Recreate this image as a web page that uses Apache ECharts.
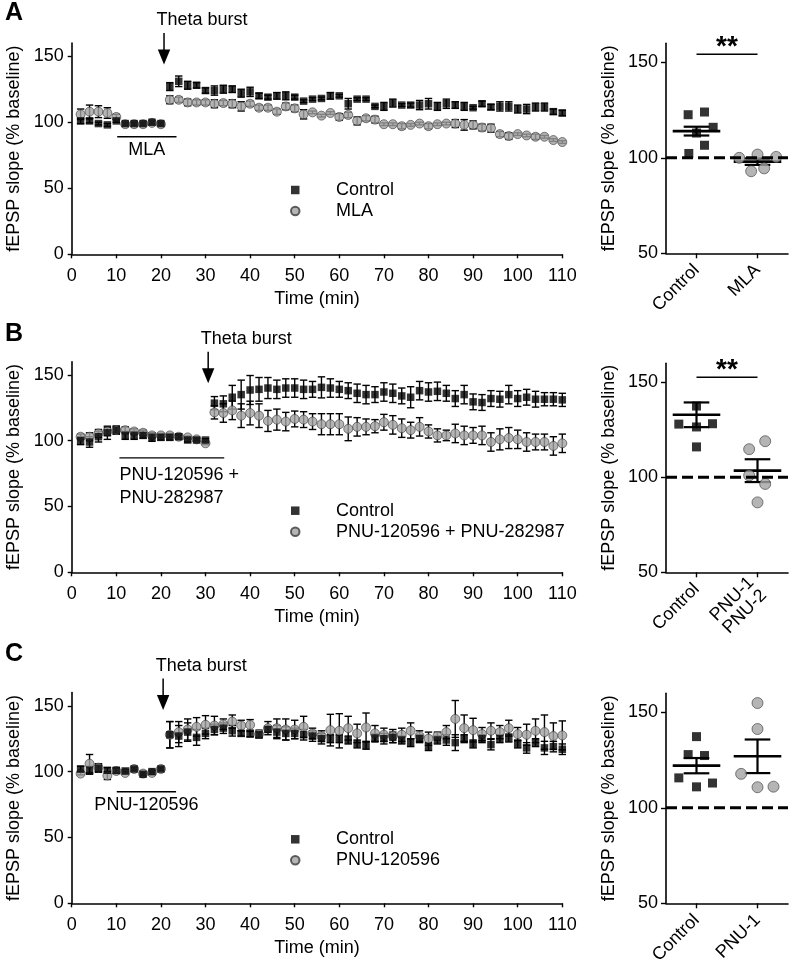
<!DOCTYPE html>
<html><head><meta charset="utf-8">
<script src="https://cdn.jsdelivr.net/npm/echarts@6/dist/echarts.min.js"></script>
<style>html,body{margin:0;padding:0;background:#fff}#c{width:790px;height:969px}</style>
</head><body><div id="c"></div>
<script>
// ---------------- DATA ----------------
const timeMin = [2,4,6,8,10,12,14,16,18,20,22,24,26,28,30,32,34,36,38,40,42,44,46,48,50,52,54,56,58,60,62,64,66,68,70,72,74,76,78,80,82,84,86,88,90,92,94,96,98,100,102,104,106,108,110];

const aControl = [101,101,99,98,101,99,99,99,100,99, 127,131,128,128,124,124,125,125,122,123, 120,119,120,120,119,116,117.5,118,120,120, 114,117.5,117.5,112,112,114.5,113,113,113,114, 112,114,113,112,111,114,111.5,112,112,110, 110,111.5,111.5,108,107];
const aControlErr = [2,1.5,1,1,1,1,1,1,1,1, 3,4,3,2,2,3.5,3,2.5,3,3.5, 2,1.5,2.5,3,1.5,1,1,1,2.5,1, 4,1,1,1,3,3,1,1.5,3.5,4, 3,3.5,2.5,3,1,2,2,3.5,3.5,3, 3.5,3,3,2,2];
const aDrug = [106,108,108,107,104,98.5,98.5,98.5,99.5,98.5, 117,117,115,115,115,114,114.5,114,112,114, 111,111,108,112,110.5,106,107.5,105,107,104, 105.5,101,103,102,98.5,98.5,97,98,99,97, 98.5,99,99,98,98,96,95.5,91,89.5,91, 90,89,89,86.5,85];
const aDrugErr = [4,5,4.5,4,2,1,1,1,1,1, 3,2,2.5,2,2,3,2,3,3.5,2, 2,2,2,2.5,2.5,3.5,1,1,1,2.5, 2,3,2,2.5,1,1,2,1,1,2, 1,1,3,4,3,2.5,3,2,2.5,1, 1,2,1,1,1];

const bControl = [100,99,103,106,108,104,104,104,102.5,102.5, 102.5,103,100.5,100.5,100.5, 128.5,128,133,135,138.5, 139,140,139,140,140,139,139,140.5,140,139, 138,136,135,135,137,136,134,133,138,137, 137.5,136,132,135,129.5,129,132,131.5,135,132, 133,131.5,131.5,131.5,131];
const bControlErr = [3,4,4,5,3,3,3,2,3,2, 2,2,1.5,1,1, 5,6,9,11,11, 9,8,7,7,7,7,6,8,7,6, 6,7,7,6,7,7,6,8,7,7, 7,6,6,7,6,6,6,6,7,6, 6,6,5,5,5];
const bDrug = [103,103,105.5,107,108,108,107,106,104,104, 104,103,102.5,101,98, 121.5,121,123,119,121, 119,115,116,114.5,116.5,116,114.5,112.5,112.5,112.5, 109,110.5,110.5,111,114,112,109.5,108,110.5,107, 104,104,105.5,104,104,104,99,101,102,101, 99,99,99,96,98];
const bDrugErr = [2,3,3,3,3,2.5,2,2,2,1.5, 1.5,1,1,1,1, 5,7,7,9,9, 9,8,8,7,6,6,6,8,8,8, 9,7,6,5,6,7,7,6,7,5, 5,4,7,7,6,7,7,8,8,7, 7,6,6,7,7];

const cControl = [102,101,102.5,101,101,100.5,102,98,100,102, 128,127,130,126,129,132,133,131,129,128.5, 128,132,130,129,129,128,127,125,125,125, 124,121,120,125.5,125,126,124,122,125,119, 124,124,122,125,121,125,120.5,125,125.5,121, 118,122,118,119,117];
const cControlErr = [2,3,3,2,2,1,1,1,1,1, 10,8,7,6,4,4,4,4,2,2, 2,2,5,5,4,4,4,4,3,3, 3,3,3,3,4,4,3,3,3,3, 3,4,6,3,3,3,4,3,3,3, 4,3,5,4,4];
const cDrug = [98.5,106,103,97,100.5,99,102,98.5,99,102, 128,130,132,134,135.5,135,136,138,135,135.5, 128.5,133,133,132,132,134,129,127,131.5,131, 133,129,133.5,129,128,127,128,131,127,125, 127,130,140,133,131.5,128.5,131,130,133,128.5, 128,131,130,127,127.5];
const cDrugErr = [1,7,3,3,2,1,1,1,1,1, 10,8,8,7,7,7,4,5,4,4, 3,5,7,8,7,8,4,4,12,13, 9,7,11,6,5,5,5,6,4,5, 3,5,14,10,9,5,6,5,6,5, 8,9,13,10,11];

// drug names (legend) and summary-category labels
const drugNames = ['MLA', 'PNU-120596 + PNU-282987', 'PNU-120596'];
const summaryLabels = [['Control','MLA'], ['Control','PNU-1\nPNU-2'], ['Control','PNU-1']];

// summary (individual slices, % baseline) and their horizontal jitter (fraction of category)
const sumAControl = [122.6,124,116,113,106.6,102.3];
const sumAControlJit = [-0.137,0.131,0.273,0,0.131,-0.126];
const sumADrug = [100,101.7,100.5,93,94.5];
const sumADrugJit = [-0.30,0,0.306,-0.104,0.109];
const sumBControl = [137.5,128,126.5,128.2,116];
const sumBControlJit = [0,-0.29,0,0.262,0];
const sumBDrug = [114.8,119,101,96.5,86.8];
const sumBDrugJit = [-0.137,0.126,-0.137,0.126,0];
const sumCControl = [137.3,127.9,127.4,115.7,113,111];
const sumCControlJit = [0,-0.137,0.131,-0.29,0.262,0];
const sumCDrug = [154.9,141.3,117.8,110.8,111.1];
const sumCDrugJit = [0,0,-0.268,0,0.262];
// mean and SEM for [Control, Drug]
const sumMean = [[114,98],[132.9,103.5],[122.1,127]];
const sumSem = [[2.3,1.7],[6.5,6],[4,8.8]];
const sigLevel = [154.2, 152.6, null];

const yTicks = [0,50,100,150];
const ySumTicks = [50,100,150];

// ---------------- STYLE ----------------
const FONT = '"Liberation Sans", Arial, sans-serif';
const FS = 18;

// ---------------- CHART ----------------
const chart = echarts.init(document.getElementById('c'), null, {renderer:'canvas'});
const txt = {fontFamily:FONT, fontSize:FS, color:'#000'};
const axisLine = {show:true, lineStyle:{color:'#000', width:1.6}};

const mainGrids = [
  {left:71.7, top:43, width:490.6, height:211.3},
  {left:71.7, top:361.7, width:490.6, height:210.6},
  {left:71.7, top:692.6, width:490.6, height:210.7}
];
const sumGrids = [
  {left:666, top:43.3, width:122, height:210},
  {left:666, top:363.3, width:122, height:209},
  {left:666, top:693.3, width:122, height:210}
];
const grids = mainGrids.concat(sumGrids).map(g=>Object.assign({containLabel:false, outerBoundsMode:'none'}, g));

const xAxes = [], yAxes = [];
for (let i=0;i<3;i++){
  xAxes.push({type:'value', gridIndex:i, min:0, max:110, interval:10,
    axisLine, splitLine:{show:false},
    axisTick:{show:true, length:4, lineStyle:{color:'#000', width:1.4}},
    axisLabel:Object.assign({margin:13}, txt),
    name:'Time (min)', nameLocation:'middle', nameGap:36, nameTextStyle:txt});
  yAxes.push({type:'value', gridIndex:i, min:0, max:160,
    axisLine, splitLine:{show:false},
    axisTick:{show:true, length:4, customValues:yTicks, lineStyle:{color:'#000', width:1.4}},
    axisLabel:Object.assign({margin:8, customValues:yTicks}, txt),
    name:'fEPSP slope (% baseline)', nameLocation:'middle', nameGap:48, nameTextStyle:txt});
}
for (let i=0;i<3;i++){
  const labs = summaryLabels[i];
  xAxes.push({type:'value', gridIndex:3+i, min:0, max:2,
    axisLine, splitLine:{show:false},
    axisTick:{show:true, length:5, customValues:[0.5,1.5], lineStyle:{color:'#000', width:1.4}},
    axisLabel:Object.assign({margin:14, rotate:45, customValues:[0.5,1.5],
      formatter:(v)=> v<1 ? labs[0] : labs[1]}, txt)});
  yAxes.push({type:'value', gridIndex:3+i, min:50, max:160,
    axisLine, splitLine:{show:false},
    axisTick:{show:true, length:5, customValues:ySumTicks, lineStyle:{color:'#000', width:1.4}},
    axisLabel:Object.assign({margin:8, customValues:ySumTicks}, txt),
    name:'fEPSP slope (% baseline)', nameLocation:'middle', nameGap:48, nameTextStyle:txt});
}

function errSeries(gi, xs, ys, es){
  return {type:'custom', xAxisIndex:gi, yAxisIndex:gi, silent:true, clip:false,
    data: xs.map((x,i)=>[x, ys[i], es[i]]), encode:{x:0, y:1},
    renderItem:(p,api)=>{
      const x=api.value(0), y=api.value(1), e=api.value(2);
      const a=api.coord([x,y+e]), b=api.coord([x,y-e]);
      const w=3.7, st={stroke:'#000', lineWidth:1.4};
      return {type:'group', children:[
        {type:'line', shape:{x1:a[0],y1:a[1],x2:b[0],y2:b[1]}, style:st},
        {type:'line', shape:{x1:a[0]-w,y1:a[1],x2:a[0]+w,y2:a[1]}, style:st},
        {type:'line', shape:{x1:b[0]-w,y1:b[1],x2:b[0]+w,y2:b[1]}, style:st}]};
    }};
}
const squareStyle = {symbol:'rect', symbolSize:7.5, itemStyle:{color:'#000'}};
const circleStyle = {symbol:'circle', symbolSize:9, itemStyle:{color:'#a3a3a3', borderColor:'#3a3a3a', borderWidth:0.8}};

const panels = [
  [aControl, aControlErr, aDrug, aDrugErr],
  [bControl, bControlErr, bDrug, bDrugErr],
  [cControl, cControlErr, cDrug, cDrugErr]
];
const series = [];
panels.forEach((p, gi)=>{
  series.push(errSeries(gi, timeMin, p[2], p[3]));
  series.push(Object.assign({type:'scatter', name:drugNames[gi], xAxisIndex:gi, yAxisIndex:gi, silent:true,
    data: timeMin.map((t,i)=>[t,p[2][i]])}, circleStyle));
  series.push(errSeries(gi, timeMin, p[0], p[1]));
  series.push(Object.assign({type:'scatter', name:'Control', xAxisIndex:gi, yAxisIndex:gi, silent:true,
    data: timeMin.map((t,i)=>[t,p[0][i]])}, squareStyle));
});

const sums = [
  [sumAControl, sumAControlJit, sumADrug, sumADrugJit],
  [sumBControl, sumBControlJit, sumBDrug, sumBDrugJit],
  [sumCControl, sumCControlJit, sumCDrug, sumCDrugJit]
];
sums.forEach((s, k)=>{
  const gi = 3+k;
  series.push({type:'line', name:'baseline '+k, xAxisIndex:gi, yAxisIndex:gi, silent:true, symbol:'none',
    data:[[0,100],[2,100]], lineStyle:{color:'#000', width:3, type:[11,5]}});
  series.push(Object.assign({type:'scatter', name:'Control slices '+k, xAxisIndex:gi, yAxisIndex:gi, silent:true,
    data: s[0].map((v,i)=>[0.5+s[1][i], v])}, squareStyle, {symbolSize:9}));
  series.push(Object.assign({type:'scatter', name:'Drug slices '+k, xAxisIndex:gi, yAxisIndex:gi, silent:true,
    data: s[2].map((v,i)=>[1.5+s[3][i], v])}, circleStyle, {symbolSize:11}));
  series.push({type:'custom', name:'mean '+k, xAxisIndex:gi, yAxisIndex:gi, silent:true, clip:false,
    data: [[0.5, sumMean[k][0], sumSem[k][0]], [1.5, sumMean[k][1], sumSem[k][1]]], encode:{x:0,y:1},
    renderItem:(p,api)=>{
      const x=api.value(0), m=api.value(1), e=api.value(2);
      const l=api.coord([x-0.39,m]), r=api.coord([x+0.39,m]);
      const t=api.coord([x,m+e]), b=api.coord([x,m-e]);
      const cw = (api.coord([x+0.21,m])[0]-api.coord([x,m])[0]);
      const st={stroke:'#000', lineWidth:2.2};
      return {type:'group', children:[
        {type:'line', shape:{x1:l[0],y1:l[1],x2:r[0],y2:r[1]}, style:{stroke:'#000', lineWidth:2.6}},
        {type:'line', shape:{x1:t[0],y1:t[1],x2:b[0],y2:b[1]}, style:st},
        {type:'line', shape:{x1:t[0]-cw,y1:t[1],x2:t[0]+cw,y2:t[1]}, style:st},
        {type:'line', shape:{x1:b[0]-cw,y1:b[1],x2:b[0]+cw,y2:b[1]}, style:st}]};
    }});
});

const legendRows = [190, 510.7, 839.3];
const squareIcon = 'path://M0 0L10 0L10 10L0 10Z';
const legends = drugNames.map((d,i)=>({
  orient:'vertical', left:290, top:legendRows[i]-10.5, itemWidth:8.5, itemHeight:8.5, itemGap:0, padding:0,
  selectedMode:false, textStyle:Object.assign({lineHeight:21, padding:[0,0,0,31.5]}, txt),
  data:[{name:'Control', icon:squareIcon}, {name:d, icon:'circle'}]
}));

chart.setOption({
  animation:false,
  grid:grids, xAxis:xAxes, yAxis:yAxes, legend:legends, series
});

// ---------------- ANNOTATIONS (placed via the chart's own scales) ----------------
const annot = [
  {g:0, theta:20.7, tip:143.7, bar:[10.2,23.5], barVal:89, drug:['MLA'], left:false},
  {g:1, theta:30.6, tip:143.6, bar:[10.7,34.2], barVal:87, drug:['PNU-120596 +','PNU-282987'], left:true},
  {g:2, theta:20.5, tip:146.8, bar:[10.1,23.4], barVal:84.7, drug:['PNU-120596'], left:false}
];
const gfx = [];
const px = (g, x, y) => chart.convertToPixel({gridIndex:g}, [x, y]);
annot.forEach(a=>{
  const tip = px(a.g, a.theta, a.tip);
  const top = tip[1]-31.5;
  gfx.push({type:'line', shape:{x1:tip[0], y1:top, x2:tip[0], y2:tip[1]-12}, style:{stroke:'#000', lineWidth:1.5}});
  gfx.push({type:'polygon', shape:{points:[[tip[0]-6.2,tip[1]-15],[tip[0]+6.2,tip[1]-15],[tip[0],tip[1]]]}, style:{fill:'#000'}});
  gfx.push({type:'text', x:tip[0]-7.5, y:top-12.8, style:{text:'Theta burst', font:FS+'px '+FONT, fill:'#000', align:'left', verticalAlign:'middle'}});
  const b0 = px(a.g, a.bar[0], a.barVal), b1 = px(a.g, a.bar[1], a.barVal);
  gfx.push({type:'line', shape:{x1:b0[0], y1:b0[1], x2:b1[0], y2:b1[1]}, style:{stroke:'#000', lineWidth:1.3}});
  if (a.left){
    a.drug.forEach((s,i)=>gfx.push({type:'text', x:b0[0], y:b0[1]+17.3+23.3*i,
      style:{text:s, font:FS+'px '+FONT, fill:'#000', align:'left', verticalAlign:'middle'}}));
  } else {
    gfx.push({type:'text', x:(b0[0]+b1[0])/2, y:b0[1]+13.5,
      style:{text:a.drug[0], font:FS+'px '+FONT, fill:'#000', align:'center', verticalAlign:'middle'}});
  }
});
sigLevel.forEach((lv,k)=>{
  if (lv==null) return;
  const l = px(3+k, 0.5, lv), r = px(3+k, 1.5, lv);
  gfx.push({type:'line', shape:{x1:l[0], y1:l[1], x2:r[0], y2:r[1]}, style:{stroke:'#000', lineWidth:1.5}});
  gfx.push({type:'text', x:(l[0]+r[0])/2, y:l[1]-7, style:{text:'**', font:'bold 28px '+FONT, fill:'#000', align:'center', verticalAlign:'middle'}});
});
[['A',13.5],['B',334],['C',654.5]].forEach(([t,y])=>gfx.push({type:'text', x:5, y:y,
  style:{text:t, font:'bold 25px '+FONT, fill:'#000', align:'left', verticalAlign:'middle'}}));
chart.setOption({graphic:{elements:gfx}});
</script></body></html>
